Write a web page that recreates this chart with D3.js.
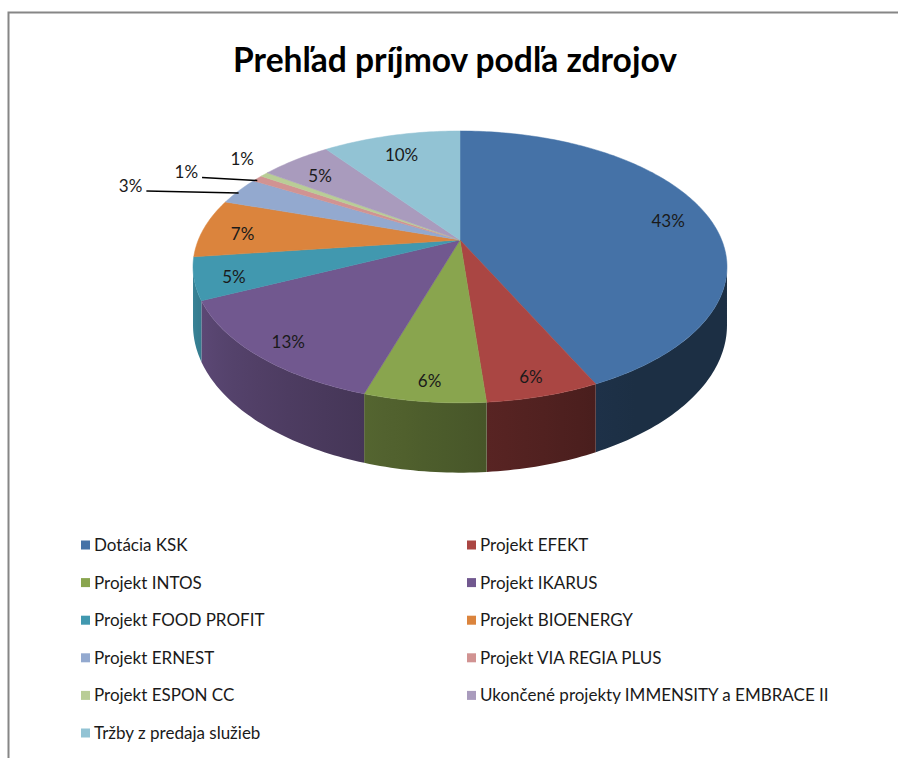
<!DOCTYPE html>
<html>
<head>
<meta charset="utf-8" />
<script src="https://d3js.org/d3.v7.min.js"></script>
<style>
  body { margin: 0; background: #fff; }
  svg { display: block; font-family: Lato, "Open Sans", sans-serif; }
</style>
</head>
<body>
<svg id="chart" width="898" height="758"></svg>
<script>
// data (share of income, %)
const categories = [
  "Dotácia KSK", "Projekt EFEKT", "Projekt INTOS", "Projekt IKARUS",
  "Projekt FOOD PROFIT", "Projekt BIOENERGY", "Projekt ERNEST",
  "Projekt VIA REGIA PLUS", "Projekt ESPON CC",
  "Ukončené projekty IMMENSITY a EMBRACE II", "Tržby z predaja služieb"
];
const shares = [43.0, 5.7, 6.1, 13.2, 5.0, 7.0, 3.3, 0.8, 0.6, 5.2, 10.1];
const colors = [
  "#4572a7", "#aa4643", "#89a54e", "#71588f", "#4198af", "#db843d",
  "#93a9cf", "#d19392", "#b9cd96", "#a99bbd", "#92c3d4"
];
const titleText = "Prehľad príjmov podľa zdrojov";

const svg = d3.select("#chart");
const defs = svg.append("defs");

// frame
svg.append("rect")
  .attr("x", 8.5).attr("y", 12.5)
  .attr("width", 1000).attr("height", 1000)
  .attr("fill", "#fff")
  .attr("stroke", "#868686")
  .attr("stroke-width", 2);

// title, sized to the width it has in the original
var title = svg.append("text")
  .attr("x", 455).attr("y", 72)
  .attr("text-anchor", "middle")
  .attr("font-weight", "bold")
  .attr("font-size", 34)
  .attr("fill", "#000")
  .text(titleText);
var tw = title.node().getComputedTextLength();
title.attr("font-size", 34 * 444 / tw);

// 3d pie with a bit of perspective
var cx = 460, cy = 240, a = 261.7, b = 130.6, k = 0.198, depth = 56;

function proj(t, r, h) {
  var u = r * Math.sin(t), v = -r * Math.cos(t), w = 1 - k * v;
  return [cx + a * u / w, cy + (b * v + h) / w];
}

var arcs = d3.pie().sort(null).value(d => d)(shares);
var total = d3.sum(shares);
var pct = d3.format(".0%");

function shade(col, t) {
  var deg = t * 180 / Math.PI;
  var f = deg <= 150 ? 0.41 : 0.41 + (deg - 150) * 0.00427;
  var c = d3.rgb(col);
  return d3.rgb(c.r * f, c.g * f, c.b * f).toString();
}

// visible part of the side wall: between the two silhouette tangents
var lo = Math.acos(-k), hi = 2 * Math.PI - lo, step = Math.PI / 180;
var wall = svg.append("g");
arcs.forEach(function (d, i) {
  var s = Math.max(d.startAngle, lo), e = Math.min(d.endAngle, hi);
  if (e <= s) return;
  var n = Math.max(2, Math.ceil((e - s) / step));
  var top = [], bot = [];
  for (var j = 0; j <= n; j++) {
    var t = s + (e - s) * j / n;
    top.push(proj(t, 1, 0));
    bot.push(proj(t, 1, depth));
  }
  var x1 = top[0][0], x2 = top[n][0];
  var g = defs.append("linearGradient")
    .attr("id", "side" + i)
    .attr("gradientUnits", "userSpaceOnUse")
    .attr("x1", x1).attr("y1", 0)
    .attr("x2", x2).attr("y2", 0);
  for (var j = 0; j <= 6; j++) {
    var t = s + (e - s) * j / 6;
    var px = proj(t, 1, 0)[0];
    g.append("stop")
      .attr("offset", x2 === x1 ? 0 : (px - x1) / (x2 - x1))
      .attr("stop-color", shade(colors[i], t));
  }
  wall.append("path")
    .attr("d", "M" + top.join("L") + "L" + bot.reverse().join("L") + "Z")
    .attr("fill", "url(#side" + i + ")");
});

// top face
function topPath(d) {
  var n = Math.max(2, Math.ceil((d.endAngle - d.startAngle) / step));
  var pts = [[cx, cy]];
  for (var j = 0; j <= n; j++) {
    pts.push(proj(d.startAngle + (d.endAngle - d.startAngle) * j / n, 1, 0));
  }
  return "M" + pts.join("L") + "Z";
}

svg.append("g")
  .selectAll("path")
  .data(arcs)
  .enter()
  .append("path")
  .attr("d", topPath)
  .attr("fill", (d, i) => colors[i])
  .attr("stroke", (d, i) => colors[i])
  .attr("stroke-width", 0.5);

// data labels
var ecy = cy + b * k / (1 - k * k); // centre of the drawn ellipse
var outside = [[-108, -5, true], [-71, -6, true], [-22, -15, false]];
var oi = 0;
var labels = svg.append("g")
  .attr("font-size", 17)
  .attr("fill", "#1a1a1a");

arcs.forEach(function (d, i) {
  var mid = (d.startAngle + d.endAngle) / 2;
  var rim = proj(mid, 1, 0);
  var txt = pct(d.value / total);
  if (d.value >= 4) {
    var x = cx + 0.85 * (rim[0] - cx);
    var y = ecy + 0.85 * (rim[1] - ecy);
    labels.append("text")
      .attr("x", x).attr("y", y)
      .attr("dy", "0.35em")
      .attr("text-anchor", "middle")
      .text(txt);
  } else {
    var o = outside[oi++];
    var lx = rim[0] + o[0], ly = rim[1] + o[1];
    var t = labels.append("text")
      .attr("x", lx).attr("y", ly)
      .attr("dy", "0.35em")
      .attr("text-anchor", "middle")
      .text(txt);
    if (o[2]) {
      var w = t.node().getComputedTextLength();
      svg.append("line")
        .attr("x1", lx + w / 2 + 4).attr("y1", ly + 5)
        .attr("x2", rim[0]).attr("y2", rim[1] + 2)
        .attr("stroke", "#000")
        .attr("stroke-width", 1.5);
    }
  }
});

// legend, two columns
var legend = svg.append("g").attr("font-size", 17).attr("fill", "#1a1a1a");
var colX = [81, 467];
categories.forEach(function (c, i) {
  var x = colX[i % 2];
  var y = 545 + Math.floor(i / 2) * 37.6;
  legend.append("rect")
    .attr("x", x).attr("y", y - 4.5)
    .attr("width", 9).attr("height", 9)
    .attr("fill", colors[i]);
  legend.append("text")
    .attr("x", x + 13).attr("y", y)
    .attr("dy", "0.35em")
    .text(c);
});
</script>
</body>
</html>
